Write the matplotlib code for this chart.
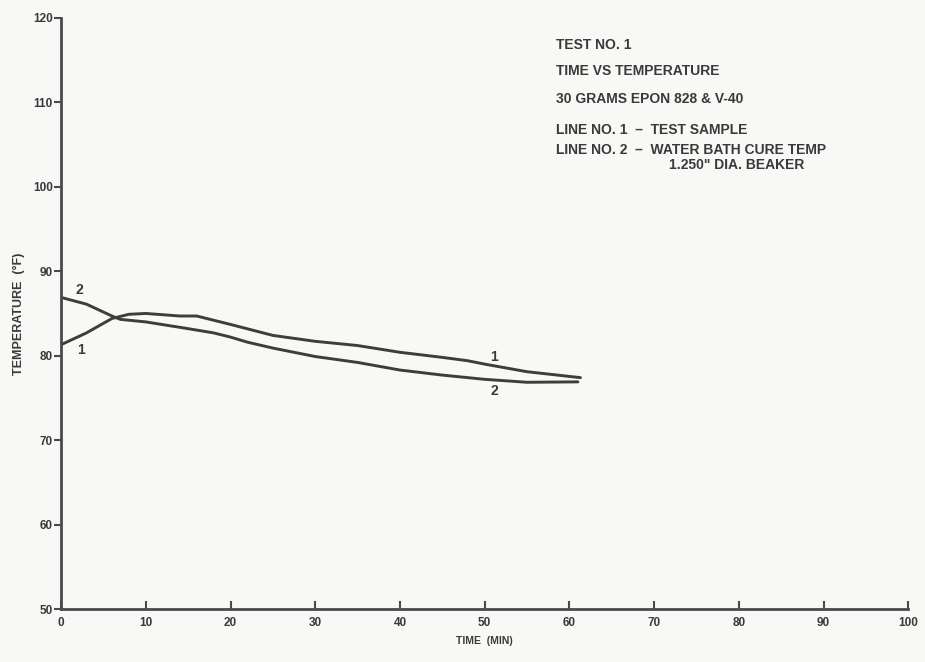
import matplotlib.pyplot as plt

# test sample (line 1) and water bath (line 2)
time_1 = [0, 3, 6, 8, 10, 14, 16, 18, 20, 25, 30, 35, 40, 45, 48, 50, 55, 61.3]
temp_1 = [81.3, 82.7, 84.4, 84.9, 85.0, 84.7, 84.7, 84.2, 83.7, 82.4, 81.7, 81.2,
          80.4, 79.8, 79.4, 79.0, 78.1, 77.4]

time_2 = [0, 3, 6, 7, 10, 15, 18, 20, 22, 25, 30, 35, 40, 45, 50, 55, 61]
temp_2 = [86.9, 86.1, 84.7, 84.3, 84.0, 83.2, 82.7, 82.2, 81.6, 80.9, 79.9, 79.2,
          78.3, 77.7, 77.2, 76.85, 76.9]

x_ticks = list(range(0, 101, 10))
y_ticks = list(range(50, 121, 10))

notes = ['TEST NO. 1', 'TIME VS TEMPERATURE', '30 GRAMS EPON 828 & V-40',
         'LINE NO. 1  \u2013  TEST SAMPLE', 'LINE NO. 2  \u2013  WATER BATH CURE TEMP']
notes_y = [116.8, 113.7, 110.4, 106.7, 104.4]

ink = '#3b3f3b'
txt = '#3a3a3a'
bg = '#f8f8f6'

plt.rcParams['font.family'] = ['Liberation Sans', 'DejaVu Sans']
fig = plt.figure(figsize=(9.25, 6.62), dpi=100, facecolor=bg)
ax = fig.add_axes([0.066, 0.080, 0.916, 0.893])
ax.set_facecolor(bg)

ax.plot(time_1, temp_1, color=ink, lw=2.1, solid_capstyle='round')
ax.plot(time_2, temp_2, color=ink, lw=2.1, solid_capstyle='round')

ax.set_xlim(0, 100)
ax.set_ylim(50, 120)
ax.set_xticks(x_ticks)
ax.set_yticks(y_ticks)
for s in ['top', 'right']:
    ax.spines[s].set_visible(False)
for s in ['left', 'bottom']:
    ax.spines[s].set_color('#4a4a4a')
    ax.spines[s].set_linewidth(2)
ax.tick_params(axis='x', direction='in', length=6, width=1.5, colors='#4a4a4a',
               labelsize=8.5, labelcolor=txt, pad=6)
ax.tick_params(axis='y', direction='out', length=5, width=1.5, colors='#4a4a4a',
               labelsize=8.5, labelcolor=txt, pad=1)
for lab in ax.get_xticklabels() + ax.get_yticklabels():
    lab.set_fontweight('bold')

ax.set_xlabel('TIME  (MIN)', fontsize=7.5, fontweight='bold', color=txt, labelpad=5)
ax.set_ylabel('TEMPERATURE  (\u00b0F)', fontsize=9, fontweight='bold', color=txt, labelpad=6)

# curve labels
lab_kw = dict(fontsize=10, fontweight='bold', color=txt, ha='center', va='center')
ax.text(2.2, 87.8, '2', **lab_kw)
ax.text(2.3, 80.7, '1', **lab_kw)
ax.text(51.1, 79.9, '1', **lab_kw)
ax.text(51.1, 75.8, '2', **lab_kw)

for t, y in zip(notes, notes_y):
    ax.text(58.4, y, t, fontsize=10, fontweight='bold', color=txt, ha='left', va='center')
ax.text(71.8, 102.6, '1.250" DIA. BEAKER', fontsize=10, fontweight='bold', color=txt,
        ha='left', va='center')

fig.savefig('out.png', dpi=100, facecolor=bg)
